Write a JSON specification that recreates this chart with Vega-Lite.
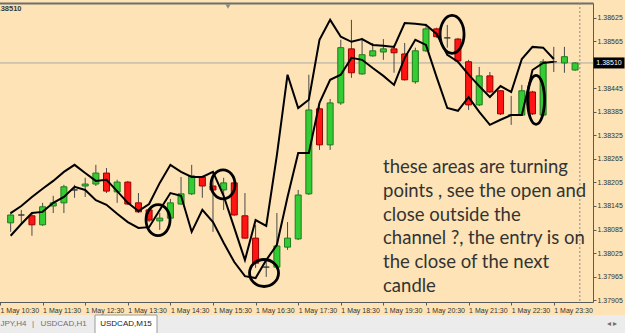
{
  "$schema": "https://vega.github.io/schema/vega-lite/v6.json",
  "autosize": "none",
  "width": 593,
  "height": 299,
  "padding": {"left": 0, "top": 3, "right": 32, "bottom": 31},
  "background": "#fde3b5",
  "config": {"font": "Liberation Sans", "view": {"stroke": null}},
  "resolve": {"scale": {"x": "independent", "y": "independent"}, "axis": {"x": "independent", "y": "independent"}},
  "datasets": {
    "candles": [
      {"t":645,"open":1.38102,"high":1.38130,"low":1.38079,"close":1.38122,"upper":1.38127,"lower":1.38069},
      {"t":660,"open":1.38122,"high":1.38135,"low":1.38097,"close":1.38122,"upper":1.38145,"lower":1.38099},
      {"t":675,"open":1.38120,"high":1.38125,"low":1.38069,"close":1.38097,"upper":1.38168,"lower":1.38127},
      {"t":690,"open":1.38097,"high":1.38153,"low":1.38094,"close":1.38143,"upper":1.38189,"lower":1.38130},
      {"t":705,"open":1.38145,"high":1.38171,"low":1.38127,"close":1.38153,"upper":1.38209,"lower":1.38153},
      {"t":720,"open":1.38153,"high":1.38199,"low":1.38127,"close":1.38194,"upper":1.38232,"lower":1.38168},
      {"t":735,"open":1.38186,"high":1.38199,"low":1.38166,"close":1.38186,"upper":1.38250,"lower":1.38194},
      {"t":750,"open":1.38196,"high":1.38217,"low":1.38168,"close":1.38201,"upper":1.38229,"lower":1.38186},
      {"t":765,"open":1.38201,"high":1.38250,"low":1.38196,"close":1.38229,"upper":1.38209,"lower":1.38160},
      {"t":780,"open":1.38229,"high":1.38242,"low":1.38178,"close":1.38183,"upper":1.38212,"lower":1.38148},
      {"t":795,"open":1.38181,"high":1.38212,"low":1.38153,"close":1.38206,"upper":1.38183,"lower":1.38125},
      {"t":810,"open":1.38206,"high":1.38209,"low":1.38148,"close":1.38150,"upper":1.38153,"lower":1.38104},
      {"t":825,"open":1.38153,"high":1.38178,"low":1.38127,"close":1.38130,"upper":1.38132,"lower":1.38089},
      {"t":840,"open":1.38135,"high":1.38140,"low":1.38104,"close":1.38109,"upper":1.38150,"lower":1.38091},
      {"t":855,"open":1.38107,"high":1.38127,"low":1.38084,"close":1.38114,"upper":1.38204,"lower":1.38135},
      {"t":870,"open":1.38114,"high":1.38163,"low":1.38112,"close":1.38153,"upper":1.38250,"lower":1.38178},
      {"t":885,"open":1.38150,"high":1.38219,"low":1.38148,"close":1.38176,"upper":1.38232,"lower":1.38171},
      {"t":900,"open":1.38176,"high":1.38250,"low":1.38173,"close":1.38222,"upper":1.38219,"lower":1.38079},
      {"t":915,"open":1.38219,"high":1.38222,"low":1.38166,"close":1.38196,"upper":1.38219,"lower":1.38135},
      {"t":930,"open":1.38196,"high":1.38232,"low":1.38079,"close":1.38186,"upper":1.38232,"lower":1.38104},
      {"t":945,"open":1.38186,"high":1.38217,"low":1.38135,"close":1.38204,"upper":1.38171,"lower":1.38051},
      {"t":960,"open":1.38204,"high":1.38209,"low":1.38120,"close":1.38122,"upper":1.38089,"lower":1.38002},
      {"t":975,"open":1.38120,"high":1.38178,"low":1.38061,"close":1.38063,"upper":1.38007,"lower":1.37966},
      {"t":990,"open":1.38063,"high":1.38097,"low":1.37987,"close":1.37999,"upper":1.38109,"lower":1.37961},
      {"t":1005,"open":1.37989,"high":1.38007,"low":1.37964,"close":1.37989,"upper":1.38094,"lower":1.38007},
      {"t":1020,"open":1.37989,"high":1.38127,"low":1.37987,"close":1.38043,"upper":1.38275,"lower":1.38046},
      {"t":1035,"open":1.38040,"high":1.38104,"low":1.38033,"close":1.38063,"upper":1.38480,"lower":1.38168},
      {"t":1050,"open":1.38061,"high":1.38186,"low":1.38058,"close":1.38173,"upper":1.38395,"lower":1.38280},
      {"t":1065,"open":1.38176,"high":1.38480,"low":1.38173,"close":1.38390,"upper":1.38416,"lower":1.38280},
      {"t":1080,"open":1.38393,"high":1.38398,"low":1.38288,"close":1.38301,"upper":1.38569,"lower":1.38408},
      {"t":1095,"open":1.38301,"high":1.38418,"low":1.38288,"close":1.38408,"upper":1.38620,"lower":1.38467},
      {"t":1110,"open":1.38408,"high":1.38569,"low":1.38403,"close":1.38549,"upper":1.38577,"lower":1.38480},
      {"t":1125,"open":1.38546,"high":1.38620,"low":1.38472,"close":1.38485,"upper":1.38564,"lower":1.38523},
      {"t":1140,"open":1.38482,"high":1.38574,"low":1.38480,"close":1.38531,"upper":1.38571,"lower":1.38518},
      {"t":1155,"open":1.38528,"high":1.38561,"low":1.38526,"close":1.38541,"upper":1.38556,"lower":1.38497},
      {"t":1170,"open":1.38538,"high":1.38571,"low":1.38518,"close":1.38546,"upper":1.38554,"lower":1.38477},
      {"t":1185,"open":1.38546,"high":1.38556,"low":1.38485,"close":1.38536,"upper":1.38551,"lower":1.38454},
      {"t":1200,"open":1.38533,"high":1.38561,"low":1.38465,"close":1.38467,"upper":1.38612,"lower":1.38523},
      {"t":1215,"open":1.38462,"high":1.38549,"low":1.38457,"close":1.38541,"upper":1.38610,"lower":1.38569},
      {"t":1230,"open":1.38541,"high":1.38610,"low":1.38538,"close":1.38597,"upper":1.38607,"lower":1.38556},
      {"t":1245,"open":1.38597,"high":1.38600,"low":1.38574,"close":1.38577,"upper":1.38584,"lower":1.38474},
      {"t":1260,"open":1.38574,"high":1.38607,"low":1.38549,"close":1.38574,"upper":1.38531,"lower":1.38395},
      {"t":1275,"open":1.38571,"high":1.38574,"low":1.38510,"close":1.38515,"upper":1.38513,"lower":1.38388},
      {"t":1290,"open":1.38513,"high":1.38518,"low":1.38390,"close":1.38403,"upper":1.38480,"lower":1.38423},
      {"t":1305,"open":1.38403,"high":1.38500,"low":1.38400,"close":1.38477,"upper":1.38451,"lower":1.38385},
      {"t":1320,"open":1.38477,"high":1.38487,"low":1.38433,"close":1.38436,"upper":1.38423,"lower":1.38352},
      {"t":1335,"open":1.38439,"high":1.38441,"low":1.38377,"close":1.38380,"upper":1.38451,"lower":1.38365},
      {"t":1350,"open":1.38377,"high":1.38426,"low":1.38352,"close":1.38377,"upper":1.38436,"lower":1.38377},
      {"t":1365,"open":1.38377,"high":1.38454,"low":1.38375,"close":1.38439,"upper":1.38520,"lower":1.38377},
      {"t":1380,"open":1.38436,"high":1.38439,"low":1.38377,"close":1.38380,"upper":1.38551,"lower":1.38492},
      {"t":1395,"open":1.38377,"high":1.38520,"low":1.38375,"close":1.38513,"upper":1.38549,"lower":1.38510},
      {"t":1410,"open":1.38513,"high":1.38551,"low":1.38487,"close":1.38513,"upper":1.38520,"lower":1.38513},
      {"t":1425,"open":1.38510,"high":1.38551,"low":1.38485,"close":1.38526},
      {"t":1440,"open":1.38492,"high":1.38512,"low":1.38490,"close":1.38510}
    ],
    "circles": [
      {"t":855.8,"price":1.38109,"id":"a"},
      {"t":945.8,"price":1.38200,"id":"b"},
      {"t":1002.6,"price":1.37974,"id":"c"},
      {"t":1263,"price":1.38583,"id":"d"},
      {"t":1379.3,"price":1.38416,"id":"e"}
    ],
    "notes": [
      {"t":1167.4,"price":1.38229,"text":["these areas are turning","points , see the open and","close outside the","channel ?, the entry is on","the close of the next","candle"]}
    ],
    "refs": [
      {"price":1.3851,"t":1440,"label":"1.38510","marker_t":952.7,"marker_price":1.38654}
    ],
    "tabs": [
      {"pos":0.216,"label":"JPY,H4","active":false},
      {"pos":0.528,"label":"|","active":false},
      {"pos":1.016,"label":"USDCAD,H1","active":false},
      {"pos":2.016,"label":"USDCAD,M15","active":true},
      {"pos":9.79,"label":"◂  ▸","active":false}
    ]
  },
  "layer": [
    {
      "data": {"name": "tabs"},
      "mark": {"type": "rect", "color": "#ececec"},
      "encoding": {
        "x": {"datum": 0, "type": "quantitative", "scale": {"domain": [0, 10], "range": [0, 625], "nice": false, "zero": false}, "axis": null},
        "x2": {"datum": 10},
        "y": {"datum": 0, "type": "quantitative", "scale": {"domain": [0, 1], "range": [330, 312], "nice": false, "zero": false}, "axis": null},
        "y2": {"datum": 1}
      }
    },
    {
      "data": {"name": "tabs"},
      "transform": [{"filter": "datum.active"}],
      "mark": {"type": "point", "shape": "M -31 -9 L 31 -9 L 31 10 L -31 10 Z", "size": 4, "filled": true, "fill": "#ffffff", "stroke": "#9a9a9a", "strokeWidth": 1, "opacity": 1},
      "encoding": {
        "x": {"field": "pos", "type": "quantitative", "scale": {"domain": [0, 10], "range": [0, 625], "nice": false, "zero": false}, "axis": null},
        "y": {"datum": 0.5, "type": "quantitative", "scale": {"domain": [0, 1], "range": [330, 312], "nice": false, "zero": false}, "axis": null}
      }
    },
    {
      "data": {"name": "tabs"},
      "mark": {"type": "text", "align": "center", "baseline": "middle", "fontSize": 8, "font": "Liberation Sans"},
      "encoding": {
        "x": {"field": "pos", "type": "quantitative", "scale": {"domain": [0, 10], "range": [0, 625], "nice": false, "zero": false}, "axis": null},
        "y": {"datum": 0.5, "type": "quantitative", "scale": {"domain": [0, 1], "range": [330, 312], "nice": false, "zero": false}, "axis": null},
        "text": {"field": "label"},
        "color": {"condition": {"test": "datum.active", "value": "#1a1a1a"}, "value": "#707070"}
      }
    },
    {
      "data": {"name": "refs"},
      "mark": {"type": "rule", "color": "#a9a9a9", "strokeWidth": 1},
      "encoding": {"y": {"field": "price", "type": "quantitative", "scale": {"domain": [1.379, 1.38663], "nice": false, "zero": false}, "axis": null}}
    },
    {
      "data": {"name": "refs"},
      "mark": {"type": "rule", "color": "#8a8a8a", "strokeDash": [2, 2], "strokeWidth": 1},
      "encoding": {"x": {"field": "t", "type": "quantitative", "scale": {"domain": [630, 1458.2], "range": [-5, 593], "nice": false, "zero": false}, "axis": null}}
    },
    {
      "data": {"name": "candles"},
      "encoding": {
        "x": {"field": "t", "type": "quantitative", "scale": {"domain": [630, 1458.2], "range": [-5, 593], "nice": false, "zero": false},
          "axis": {"values": [630, 690, 750, 810, 870, 930, 990, 1050, 1110, 1170, 1230, 1290, 1350, 1410],
            "labelExpr": "'1 May ' + floor(datum.value/60) + ':30'", "title": null, "grid": false,
            "tickSize": 3, "labelAlign": "left", "labelPadding": 1, "labelFontSize": 7, "labelFont": "Liberation Sans",
            "labelColor": "#333333", "domainColor": "#5a5a5a", "tickColor": "#5a5a5a",
            "labelOverlap": false, "labelFlush": false, "labelBound": false}},
        "y": {"field": "low", "type": "quantitative", "scale": {"domain": [1.379, 1.38663], "nice": false, "zero": false},
          "axis": {"orient": "right", "values": [1.37905, 1.37965, 1.38025, 1.38085, 1.38145, 1.38205, 1.38265, 1.38325, 1.38385, 1.38445, 1.38565, 1.38625],
            "format": ".5f", "title": null, "grid": false, "tickSize": 3, "labelPadding": 1, "labelFontSize": 7,
            "labelFont": "Liberation Sans", "labelColor": "#333333", "domainColor": "#5a5a5a", "tickColor": "#5a5a5a",
            "labelOverlap": false, "labelFlush": false, "labelBound": false}}
      },
      "layer": [
        {
          "mark": {"type": "rule", "color": "#4a4a4a", "strokeWidth": 1},
          "encoding": {"y2": {"field": "high"}}
        },
        {
          "mark": {"type": "bar", "size": 6, "strokeWidth": 1},
          "encoding": {
            "y": {"field": "open", "type": "quantitative"},
            "y2": {"field": "close"},
            "fill": {"condition": [{"test": "datum.close == datum.open", "value": "#3a3a3a"}, {"test": "datum.close > datum.open", "value": "#33cc33"}], "value": "#ff1414"},
            "stroke": {"condition": [{"test": "datum.close == datum.open", "value": "#3a3a3a"}, {"test": "datum.close > datum.open", "value": "#1f7a1f"}], "value": "#9b0000"}
          }
        },
        {
          "mark": {"type": "line", "color": "#000000", "strokeWidth": 2},
          "encoding": {"y": {"field": "upper", "type": "quantitative"}}
        },
        {
          "mark": {"type": "line", "color": "#000000", "strokeWidth": 2},
          "encoding": {"y": {"field": "lower", "type": "quantitative"}}
        }
      ]
    },
    {
      "data": {"name": "circles"},
      "mark": {"type": "point", "filled": false, "size": 4, "stroke": "#000000", "strokeWidth": 2.8, "opacity": 1},
      "encoding": {
        "x": {"field": "t", "type": "quantitative", "scale": {"domain": [630, 1458.2], "range": [-5, 593], "nice": false, "zero": false}, "axis": null},
        "y": {"field": "price", "type": "quantitative", "scale": {"domain": [1.379, 1.38663], "nice": false, "zero": false}, "axis": null},
        "shape": {"field": "id", "type": "nominal", "legend": null,
          "scale": {"domain": ["a", "b", "c", "d", "e"],
            "range": [
              "M -12 0 A 12 15.5 0 1 0 12 0 A 12 15.5 0 1 0 -12 0 Z",
              "M -12 0 A 12 14.5 0 1 0 12 0 A 12 14.5 0 1 0 -12 0 Z",
              "M -14.5 0 A 14.5 13.5 0 1 0 14.5 0 A 14.5 13.5 0 1 0 -14.5 0 Z",
              "M -12 0 A 12 19 0 1 0 12 0 A 12 19 0 1 0 -12 0 Z",
              "M -8.5 0 A 8.5 24.5 0 1 0 8.5 0 A 8.5 24.5 0 1 0 -8.5 0 Z"
            ]}}
      }
    },
    {
      "data": {"name": "notes"},
      "mark": {"type": "text", "align": "left", "baseline": "alphabetic", "font": "Lato", "fontSize": 18.5, "lineHeight": 23.8, "color": "#333333"},
      "encoding": {
        "x": {"field": "t", "type": "quantitative", "scale": {"domain": [630, 1458.2], "range": [-5, 593], "nice": false, "zero": false},
          "axis": {"orient": "top", "labels": false, "ticks": false, "title": null, "grid": false, "domainColor": "#6e6e6e", "domainWidth": 2}},
        "y": {"field": "price", "type": "quantitative", "scale": {"domain": [1.379, 1.38663], "nice": false, "zero": false}, "axis": null},
        "text": {"field": "text"}
      }
    },
    {
      "data": {"name": "refs"},
      "mark": {"type": "point", "shape": "M -15.5 -5.5 L 15.5 -5.5 L 15.5 5.5 L -15.5 5.5 Z", "size": 4, "filled": true, "color": "#000000", "opacity": 1},
      "encoding": {
        "x": {"datum": 1480.4, "type": "quantitative", "scale": {"domain": [630, 1458.2], "range": [-5, 593], "nice": false, "zero": false}, "axis": null},
        "y": {"field": "price", "type": "quantitative", "scale": {"domain": [1.379, 1.38663], "nice": false, "zero": false}, "axis": null}
      }
    },
    {
      "data": {"name": "refs"},
      "mark": {"type": "text", "color": "#ffffff", "align": "center", "baseline": "middle", "fontSize": 7, "font": "Liberation Sans"},
      "encoding": {
        "x": {"datum": 1480.4, "type": "quantitative", "scale": {"domain": [630, 1458.2], "range": [-5, 593], "nice": false, "zero": false}, "axis": null},
        "y": {"field": "price", "type": "quantitative", "scale": {"domain": [1.379, 1.38663], "nice": false, "zero": false}, "axis": null},
        "text": {"field": "label"}
      }
    },
    {
      "data": {"name": "refs"},
      "mark": {"type": "text", "align": "left", "baseline": "middle", "fontSize": 7.5, "fontWeight": "bold", "color": "#3a3a3a", "font": "Liberation Sans", "dy": -54},
      "encoding": {
        "x": {"datum": 629.2, "type": "quantitative", "scale": {"domain": [630, 1458.2], "range": [-5, 593], "nice": false, "zero": false}, "axis": null},
        "y": {"field": "price", "type": "quantitative", "scale": {"domain": [1.379, 1.38663], "nice": false, "zero": false}, "axis": null},
        "text": {"field": "label"}
      }
    },
    {
      "data": {"name": "refs"},
      "mark": {"type": "point", "shape": "triangle-down", "filled": true, "color": "#8c8c8c", "size": 28, "opacity": 1},
      "encoding": {
        "x": {"field": "marker_t", "type": "quantitative", "scale": {"domain": [630, 1458.2], "range": [-5, 593], "nice": false, "zero": false}, "axis": null},
        "y": {"field": "marker_price", "type": "quantitative", "scale": {"domain": [1.379, 1.38663], "nice": false, "zero": false}, "axis": null}
      }
    }
  ]
}
